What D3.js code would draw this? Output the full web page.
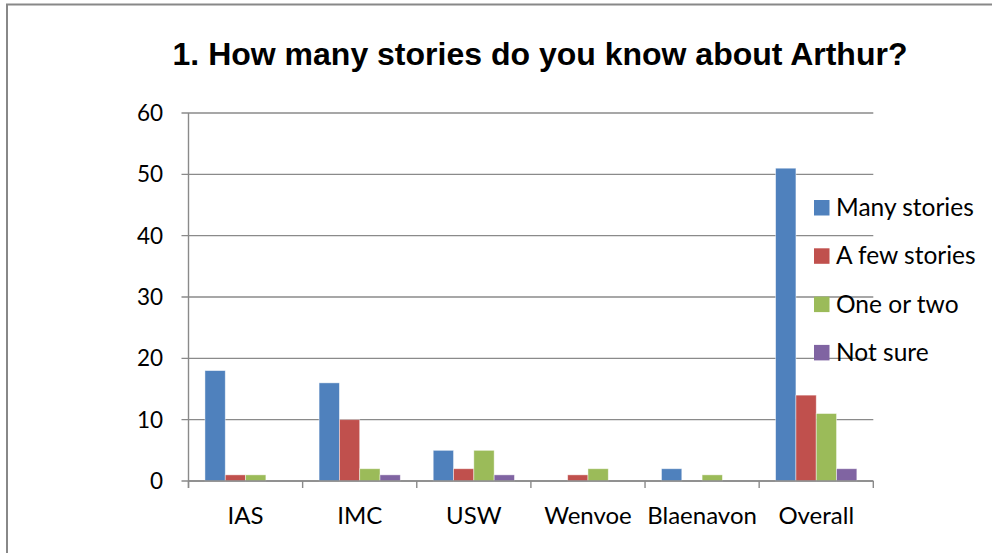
<!DOCTYPE html>
<html>
<head>
<meta charset="utf-8">
<script src="https://cdn.jsdelivr.net/npm/d3@7"></script>
<style>
  html, body { margin: 0; padding: 0; background: #fff; }
  svg { display: block; }
</style>
</head>
<body>
<svg id="chart" width="992" height="553"></svg>
<script>
// Survey responses per venue
const categories = ["IAS", "IMC", "USW", "Wenvoe", "Blaenavon", "Overall"];
const seriesNames = ["Many stories", "A few stories", "One or two", "Not sure"];
const manyStories = [18, 16, 5, 0, 2, 51];
const aFewStories = [1, 10, 2, 1, 0, 14];
const oneOrTwo    = [1, 2, 5, 2, 1, 11];
const notSure     = [0, 1, 1, 0, 0, 2];
const yTicks = [0, 10, 20, 30, 40, 50, 60];
const colors = ["#4F81BD", "#C0504D", "#9BBB59", "#8064A2"];

const seriesValues = [manyStories, aFewStories, oneOrTwo, notSure];

const svg = d3.select("#chart");
const gridColor = "#8a8a8a";
const labelFont = "Lato, 'Open Sans', sans-serif";

// Outer frame of the chart
svg.append("rect")
  .attr("x", 7).attr("y", 4.5)
  .attr("width", 1100).attr("height", 700)
  .attr("fill", "none")
  .attr("stroke", "#888")
  .attr("stroke-width", 2);

// Title
svg.append("text")
  .attr("x", 540).attr("y", 65)
  .attr("text-anchor", "middle")
  .attr("font-family", "'Liberation Sans', Arial, sans-serif")
  .attr("font-weight", "bold")
  .attr("font-size", 32)
  .attr("fill", "#000")
  .text("1. How many stories do you know about Arthur?");

const plot = { left: 188.5, right: 873.3, top: 113, bottom: 481 };

const y = d3.scaleLinear().domain([0, 60]).range([plot.bottom, plot.top]);
const x0 = d3.scaleBand().domain(categories).range([plot.left, plot.right]).paddingInner(0).paddingOuter(0);
const x1 = d3.scaleBand().domain(seriesNames)
  .range([0, x0.bandwidth()])
  .paddingInner(0)
  .paddingOuter(0.81);

// Horizontal gridlines
svg.append("g")
  .selectAll("line")
  .data(yTicks)
  .join("line")
  .attr("x1", plot.left - 7).attr("x2", plot.right)
  .attr("y1", d => y(d)).attr("y2", d => y(d))
  .attr("stroke", gridColor)
  .attr("stroke-width", 1.4);

// Y axis labels
svg.append("g")
  .selectAll("text")
  .data(yTicks)
  .join("text")
  .attr("x", 163)
  .attr("y", d => y(d))
  .attr("dy", "0.36em")
  .attr("text-anchor", "end")
  .attr("font-family", labelFont)
  .attr("font-size", 22.5)
  .attr("fill", "#000")
  .text(d => d);

// Vertical axis line
svg.append("line")
  .attr("x1", plot.left).attr("x2", plot.left)
  .attr("y1", plot.top).attr("y2", plot.bottom + 7)
  .attr("stroke", gridColor).attr("stroke-width", 1.4);

// Bars
const groups = svg.append("g")
  .selectAll("g")
  .data(categories)
  .join("g")
  .attr("transform", d => `translate(${x0(d)},0)`);

groups.selectAll("rect")
  .data((c, i) => seriesNames.map((s, k) => ({ series: s, value: seriesValues[k][i], color: colors[k] })))
  .join("rect")
  .attr("x", d => x1(d.series))
  .attr("width", x1.bandwidth())
  .attr("y", d => y(d.value))
  .attr("height", d => y(0) - y(d.value))
  .attr("fill", d => d.color)
  .attr("stroke", "rgba(255,255,255,0.55)")
  .attr("stroke-width", 0.8);

// Category axis with ticks between groups
const xAxisG = svg.append("g");
xAxisG.append("line")
  .attr("x1", plot.left).attr("x2", plot.right)
  .attr("y1", plot.bottom).attr("y2", plot.bottom)
  .attr("stroke", gridColor).attr("stroke-width", 1.4);
const tickPositions = categories.map(c => x0(c)).concat([x0(categories[categories.length - 1]) + x0.bandwidth()]);
xAxisG.selectAll("line.tick")
  .data(tickPositions)
  .join("line")
  .attr("class", "tick")
  .attr("x1", d => d).attr("x2", d => d)
  .attr("y1", plot.bottom).attr("y2", plot.bottom + 7)
  .attr("stroke", gridColor).attr("stroke-width", 1.4);

xAxisG.selectAll("text")
  .data(categories)
  .join("text")
  .attr("x", d => x0(d) + x0.bandwidth() / 2)
  .attr("y", 524)
  .attr("text-anchor", "middle")
  .attr("font-family", labelFont)
  .attr("font-size", 24)
  .attr("fill", "#000")
  .text(d => d);

// Legend
const legend = svg.append("g")
  .selectAll("g")
  .data(seriesNames)
  .join("g")
  .attr("transform", (d, i) => `translate(814,${200 + i * 48.3})`);

legend.append("rect")
  .attr("x", 0).attr("y", 0)
  .attr("width", 15.5).attr("height", 15.5)
  .attr("fill", (d, i) => colors[i]);

legend.append("text")
  .attr("x", 22).attr("y", 16)
  .attr("font-family", labelFont)
  .attr("font-size", 24.5)
  .attr("fill", "#000")
  .text(d => d);
</script>
</body>
</html>
